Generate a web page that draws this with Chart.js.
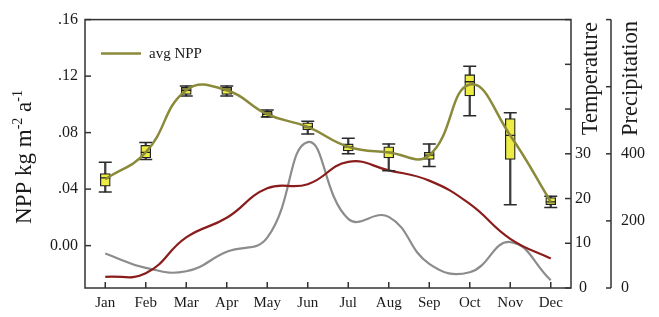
<!DOCTYPE html>
<html>
<head>
<meta charset="utf-8">
<script src="https://cdn.jsdelivr.net/npm/chart.js@4.4.0/dist/chart.umd.min.js"></script>
<style>
html, body { margin: 0; padding: 0; background: #fff; }
#wrap { width: 659px; height: 317px; }
</style>
</head>
<body>
<div id="wrap"><canvas id="chart" width="659" height="317"></canvas></div>
<script>
var months = ['Jan', 'Feb', 'Mar', 'Apr', 'May', 'Jun', 'Jul', 'Aug', 'Sep', 'Oct', 'Nov', 'Dec'];

// avg NPP curve, kg m-2 a-1
var nppAvg = [0.047, 0.066, 0.110, 0.110, 0.093, 0.084, 0.070, 0.066, 0.064, 0.114, 0.078, 0.031];

// box plot stats per month
var nppMax = [0.059, 0.073, 0.113, 0.113, 0.096, 0.088, 0.076, 0.072, 0.072, 0.127, 0.094, 0.035];
var nppQ3 = [0.051, 0.071, 0.112, 0.112, 0.095, 0.087, 0.072, 0.070, 0.066, 0.121, 0.090, 0.034];
var nppMed = [0.048, 0.066, 0.110, 0.110, 0.093, 0.084, 0.070, 0.066, 0.064, 0.116, 0.078, 0.031];
var nppQ1 = [0.042, 0.062, 0.107, 0.107, 0.091, 0.082, 0.067, 0.062, 0.061, 0.106, 0.061, 0.029];
var nppMin = [0.038, 0.061, 0.106, 0.106, 0.091, 0.079, 0.065, 0.053, 0.056, 0.092, 0.029, 0.027];

// climate
var temperature = [2.5, 3.3, 11.3, 15.7, 22.3, 23.2, 28.2, 26.3, 24.0, 18.8, 11.0, 6.6];
var precipitation = [103, 60, 50, 108, 150, 435, 206, 212, 72, 47, 137, 23];

// tick labels
var nppTicks = [0, 0.04, 0.08, 0.12, 0.16];
var tempLabels = [0, 10, 20, 30];
var precLabels = [0, 200, 400];

var serif = '"Liberation Serif", "DejaVu Serif", serif';
var textColor = '#1a1a1a';
var axisColor = '#333333';
var nppColor = '#8a8a3a';

function strokeLine(ctx, x1, y1, x2, y2) {
    ctx.beginPath();
    ctx.moveTo(x1, y1);
    ctx.lineTo(x2, y2);
    ctx.stroke();
}

// vertical text, reading bottom to top, centred on cy with baseline at bx
function drawVertical(ctx, bx, cy, parts, size) {
    var supSize = Math.round(size * 0.6);
    var total = 0;
    parts.forEach(function (p) {
        ctx.font = (p.sup ? supSize : size) + 'px ' + serif;
        p.w = ctx.measureText(p.t).width;
        total += p.w;
    });
    ctx.save();
    ctx.translate(bx, cy);
    ctx.rotate(-Math.PI / 2);
    ctx.fillStyle = textColor;
    ctx.textBaseline = 'alphabetic';
    ctx.textAlign = 'left';
    var x = -total / 2;
    parts.forEach(function (p) {
        ctx.font = (p.sup ? supSize : size) + 'px ' + serif;
        ctx.fillText(p.t, x, p.sup ? -size * 0.4 : 0);
        x += p.w;
    });
    ctx.restore();
}

var decorations = {
    id: 'decorations',
    afterDraw: function (chart) {
        var ctx = chart.ctx;
        var a = chart.chartArea;
        var s = chart.scales;
        var tl = 6;

        ctx.save();
        ctx.strokeStyle = axisColor;
        ctx.lineWidth = 1.5;

        // frame round the plot
        ctx.strokeRect(a.left, a.top, a.right - a.left, a.bottom - a.top);

        // precipitation axis line
        var px = s.yPrec.left;
        strokeLine(ctx, px, a.top, px, a.bottom);

        // inward tick marks
        var i;
        for (i = 0; i < s.x.ticks.length; i++) {
            var x = s.x.getPixelForTick(i);
            strokeLine(ctx, x, a.bottom, x, a.bottom - tl);
        }
        for (i = 0; i < s.y.ticks.length; i++) {
            var y = s.y.getPixelForTick(i);
            strokeLine(ctx, a.left, y, a.left + tl, y);
        }
        for (i = 0; i < s.yTemp.ticks.length; i++) {
            var y2 = s.yTemp.getPixelForTick(i);
            strokeLine(ctx, a.right, y2, a.right - tl, y2);
        }
        for (i = 0; i < s.yPrec.ticks.length; i++) {
            var y3 = s.yPrec.getPixelForTick(i);
            strokeLine(ctx, px, y3, px - 5, y3);
        }
        ctx.restore();

        // axis titles
        drawVertical(ctx, s.y.left + 31, 157, [
            { t: 'NPP kg m' }, { t: '-2', sup: true }, { t: ' a' }, { t: '-1', sup: true }
        ], 23);
        drawVertical(ctx, s.yTemp.left + 26, a.top + 59, [{ t: 'Temperature' }], 22.5);
        drawVertical(ctx, s.yPrec.left + 26, a.top + 59, [{ t: 'Precipitation' }], 22.5);

        // legend (only the avg NPP line)
        var ds = chart.data.datasets[0];
        ctx.save();
        ctx.strokeStyle = ds.borderColor;
        ctx.lineWidth = ds.borderWidth;
        strokeLine(ctx, a.left + 16, a.top + 34, a.left + 56, a.top + 34);
        ctx.fillStyle = textColor;
        ctx.font = '15px ' + serif;
        ctx.textBaseline = 'middle';
        ctx.fillText(ds.label, a.left + 64, a.top + 34);
        ctx.restore();
    }
};

var ctx = document.getElementById('chart').getContext('2d');

new Chart(ctx, {
    type: 'bar',
    data: {
        labels: months,
        datasets: [
            {
                type: 'line',
                label: 'avg NPP',
                data: nppAvg,
                yAxisID: 'y',
                borderColor: nppColor,
                borderWidth: 2.5,
                pointRadius: 0,
                tension: 0.45,
                order: 0
            },
            {
                type: 'line',
                label: 'median',
                data: nppMed,
                yAxisID: 'y',
                showLine: false,
                pointStyle: 'line',
                pointRadius: 5,
                pointBorderWidth: 1.3,
                pointBorderColor: '#222',
                order: 1
            },
            {
                type: 'bar',
                label: 'box',
                data: nppQ1.map(function (v, i) { return [v, nppQ3[i]]; }),
                yAxisID: 'y',
                backgroundColor: '#ecec45',
                borderColor: '#222',
                borderWidth: 1.3,
                borderSkipped: false,
                barThickness: 10,
                grouped: false,
                order: 2
            },
            {
                type: 'line',
                label: 'cap max',
                data: nppMax,
                yAxisID: 'y',
                showLine: false,
                pointStyle: 'line',
                pointRadius: 6.5,
                pointBorderWidth: 1.5,
                pointBorderColor: '#2a2a2a',
                order: 3
            },
            {
                type: 'line',
                label: 'cap min',
                data: nppMin,
                yAxisID: 'y',
                showLine: false,
                pointStyle: 'line',
                pointRadius: 6.5,
                pointBorderWidth: 1.5,
                pointBorderColor: '#2a2a2a',
                order: 3
            },
            {
                type: 'bar',
                label: 'whisker',
                data: nppMin.map(function (v, i) { return [v, nppMax[i]]; }),
                yAxisID: 'y',
                backgroundColor: '#3c3c3c',
                borderWidth: 0,
                barThickness: 1.6,
                grouped: false,
                order: 4
            },
            {
                type: 'line',
                label: 'Temperature',
                data: temperature,
                yAxisID: 'yTemp',
                borderColor: '#8b1c1c',
                borderWidth: 2.2,
                pointRadius: 0,
                tension: 0.45,
                order: 5
            },
            {
                type: 'line',
                label: 'Precipitation',
                data: precipitation,
                yAxisID: 'yPrec',
                borderColor: '#8c8c8c',
                borderWidth: 2.2,
                pointRadius: 0,
                tension: 0.45,
                order: 6
            }
        ]
    },
    options: {
        responsive: false,
        animation: false,
        events: [],
        layout: { padding: { top: 13, left: 0, right: 0, bottom: 0 } },
        plugins: {
            legend: { display: false },
            tooltip: { enabled: false }
        },
        scales: {
            x: {
                offset: true,
                grid: { display: false, drawTicks: false },
                border: { display: false },
                ticks: {
                    color: textColor,
                    font: { family: serif, size: 15 },
                    padding: 6,
                    maxRotation: 0,
                    autoSkip: false
                },
                afterFit: function (scale) { scale.height = 29; }
            },
            y: {
                position: 'left',
                min: -0.03,
                max: 0.16,
                grid: { display: false, drawTicks: false },
                border: { display: false },
                afterBuildTicks: function (scale) {
                    scale.ticks = nppTicks.map(function (v) { return { value: v }; });
                },
                ticks: {
                    color: textColor,
                    font: { family: serif, size: 16 },
                    padding: 7,
                    callback: function (v) {
                        return v === 0 ? '0.00' : v.toFixed(2).replace(/^0/, '');
                    }
                },
                afterFit: function (scale) { scale.width = 85; }
            },
            yTemp: {
                position: 'right',
                weight: 0,
                min: 0,
                max: 60,
                grid: { display: false, drawTicks: false },
                border: { display: false },
                ticks: {
                    stepSize: 10,
                    color: textColor,
                    font: { family: serif, size: 16 },
                    padding: 4,
                    crossAlign: 'center',
                    callback: function (v) { return tempLabels.indexOf(v) >= 0 ? String(v) : ''; }
                },
                afterFit: function (scale) { scale.width = 40; }
            },
            yPrec: {
                position: 'right',
                weight: 1,
                min: 0,
                max: 800,
                grid: { display: false, drawTicks: false },
                border: { display: false },
                ticks: {
                    stepSize: 200,
                    color: textColor,
                    font: { family: serif, size: 16 },
                    padding: 10,
                    callback: function (v) { return precLabels.indexOf(v) >= 0 ? String(v) : ''; }
                },
                afterFit: function (scale) { scale.width = 48; }
            }
        }
    },
    plugins: [decorations]
});
</script>
</body>
</html>
